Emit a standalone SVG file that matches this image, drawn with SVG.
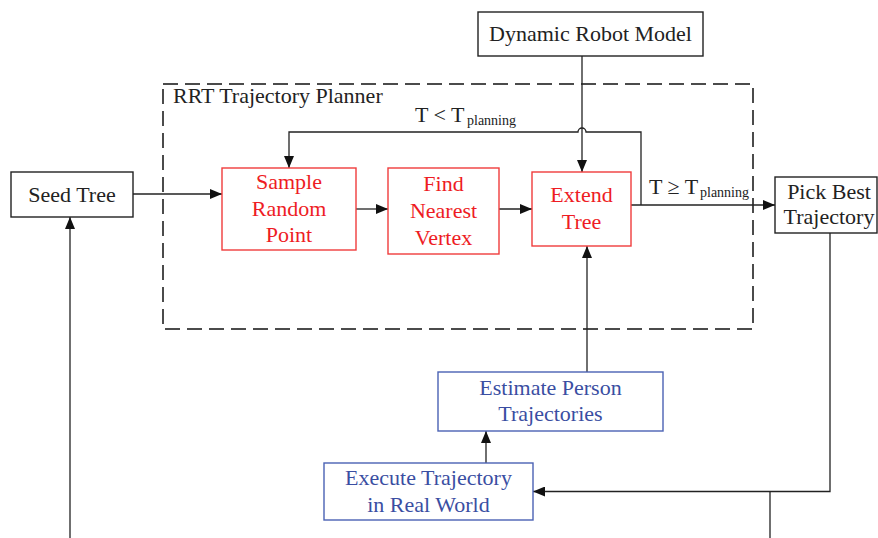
<svg xmlns="http://www.w3.org/2000/svg" width="878" height="538" viewBox="0 0 878 538">
<defs>
<marker id="ah" markerWidth="12" markerHeight="10" refX="12" refY="5" orient="auto" markerUnits="userSpaceOnUse">
<path d="M0,0 L12,5 L0,10 Z" fill="#111"/>
</marker>
<style>
text{font-family:"Liberation Serif","Times New Roman",serif;font-size:22px;text-anchor:middle;fill:#222}
.bk{fill:#fff;stroke:#222;stroke-width:1.4}
.rd{fill:#fff;stroke:#f03c3c;stroke-width:1.4}
.bl{fill:#fff;stroke:#4a62b4;stroke-width:1.4}
text.r{fill:#ee1c24}
text.b{fill:#3a4ea2}
.c{fill:none;stroke:#222;stroke-width:1.3}
.sub{font-size:14px;text-anchor:start}
.st{text-anchor:start}
</style>
</defs>
<rect width="878" height="538" fill="#fff"/>
<g id="planner">
<rect x="163" y="84" width="590" height="245" fill="none" stroke="#111" stroke-width="1.5" stroke-dasharray="15,7"/>
<text class="st" x="173" y="103">RRT Trajectory Planner</text>
</g>
<g id="connectors">
<path class="c" d="M133,194 H222" marker-end="url(#ah)"/>
<path class="c" d="M356,209 H388" marker-end="url(#ah)"/>
<path class="c" d="M499,209 H532" marker-end="url(#ah)"/>
<path class="c" d="M582,56 V172" marker-end="url(#ah)"/>
<path class="c" d="M641,205 V132 H586 A4,4 0 0 0 578,132 H289 V168" marker-end="url(#ah)"/>
<path class="c" d="M631,205 H775" marker-end="url(#ah)"/>
<path class="c" d="M830,233 V491.5 H533" marker-end="url(#ah)"/>
<path class="c" d="M770,491.5 V538"/>
<path class="c" d="M486,463 V431" marker-end="url(#ah)"/>
<path class="c" d="M587,372 V246" marker-end="url(#ah)"/>
<path class="c" d="M70,538 V217" marker-end="url(#ah)"/>
<text class="st" x="415" y="122">T &lt; T</text>
<text class="sub" x="467" y="125">planning</text>
<text class="st" x="649" y="194">T ≥ T</text>
<text class="sub" x="700" y="197">planning</text>
</g>
<g id="dynamic-robot-model">
<rect class="bk" x="478" y="12" width="225" height="44"/>
<text x="590.5" y="41">Dynamic Robot Model</text>
</g>
<g id="seed-tree">
<rect class="bk" x="11" y="172" width="122" height="45"/>
<text x="72" y="202">Seed Tree</text>
</g>
<g id="sample-random-point">
<rect class="rd" x="222" y="168" width="134" height="82"/>
<text class="r" x="289" y="189">Sample</text>
<text class="r" x="289" y="215.5">Random</text>
<text class="r" x="289" y="242">Point</text>
</g>
<g id="find-nearest-vertex">
<rect class="rd" x="388" y="168" width="111" height="86"/>
<text class="r" x="443.5" y="191">Find</text>
<text class="r" x="443.5" y="218">Nearest</text>
<text class="r" x="443.5" y="245">Vertex</text>
</g>
<g id="extend-tree">
<rect class="rd" x="532" y="172" width="99" height="74"/>
<text class="r" x="581.5" y="202">Extend</text>
<text class="r" x="581.5" y="229">Tree</text>
</g>
<g id="pick-best-trajectory">
<rect class="bk" x="775" y="177" width="102" height="56"/>
<text x="829" y="199">Pick Best</text>
<text x="829" y="224">Trajectory</text>
</g>
<g id="estimate-person-trajectories">
<rect class="bl" x="438" y="372" width="225" height="59"/>
<text class="b" x="550.5" y="395">Estimate Person</text>
<text class="b" x="550.5" y="421">Trajectories</text>
</g>
<g id="execute-trajectory">
<rect class="bl" x="324" y="463" width="209" height="57"/>
<text class="b" x="428.5" y="485">Execute Trajectory</text>
<text class="b" x="428.5" y="512">in Real World</text>
</g>
</svg>
